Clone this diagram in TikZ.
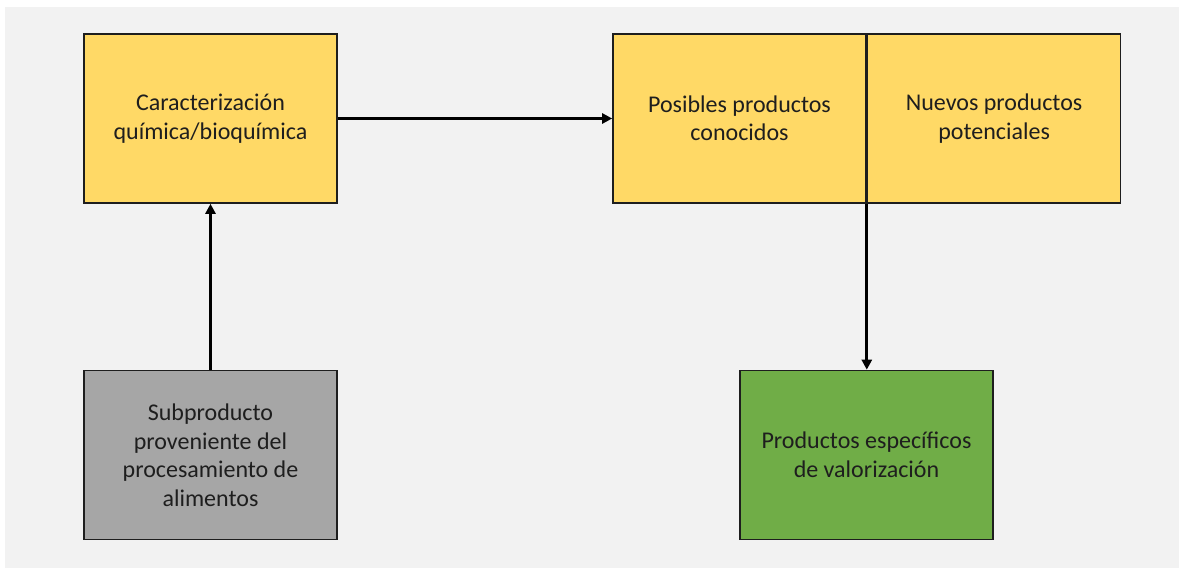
\documentclass[tikz,border=0pt]{standalone}
\usepackage{fontspec}
\setmainfont{Carlito}
\usepackage{tikz}
\usetikzlibrary{arrows.meta,positioning}
\usepackage{xcolor}
\definecolor{valorback}{RGB}{242,242,242}
\definecolor{valoryellow}{RGB}{255,217,102}
\definecolor{valorgreen}{RGB}{112,173,71}
\definecolor{valorgray}{RGB}{166,166,166}
\definecolor{valordark}{RGB}{30,30,30}

\tikzset{
  valorbox/.style={draw=valordark, line width=1.6pt, minimum width=253pt, minimum height=169pt,
    inner sep=0pt, align=center, text=valordark, font=\fontsize{24}{28.5}\selectfont},
  valorarrow/.style={line width=2.8pt, -{Triangle[length=10pt,width=10pt]}}
}

\begin{document}
\begin{tikzpicture}[x=1pt, y=-1pt]
  \useasboundingbox (0,0) rectangle (1179,568);
  \fill[white] (0,0) rectangle (1179,568);
  \fill[valorback] (5,7) rectangle (1179,568);

  \node[valorbox, fill=valoryellow] (carac) at (210.5,118.5) {Caracterización\\química/bioquímica};
  \node[valorbox, fill=valoryellow] (conoc) at (739.5,118.5) {Posibles productos\\conocidos};
  \node[valorbox, fill=valoryellow, right=0pt of conoc] (nuevos) {Nuevos productos\\potenciales};
  \node[valorbox, fill=valorgray] (subprod) at (210.5,455) {Subproducto\\proveniente del\\procesamiento de\\alimentos};
  \node[valorbox, fill=valorgreen] (valor) at (866.5,455) {Productos específicos\\de valorización};

  \draw[valorarrow] (subprod.north) -- (carac.south);
  \draw[valorarrow] (carac.east) -- (conoc.west);
  \draw[valorarrow] (conoc.south east) -- (conoc.south east |- valor.north);
\end{tikzpicture}
\end{document}
